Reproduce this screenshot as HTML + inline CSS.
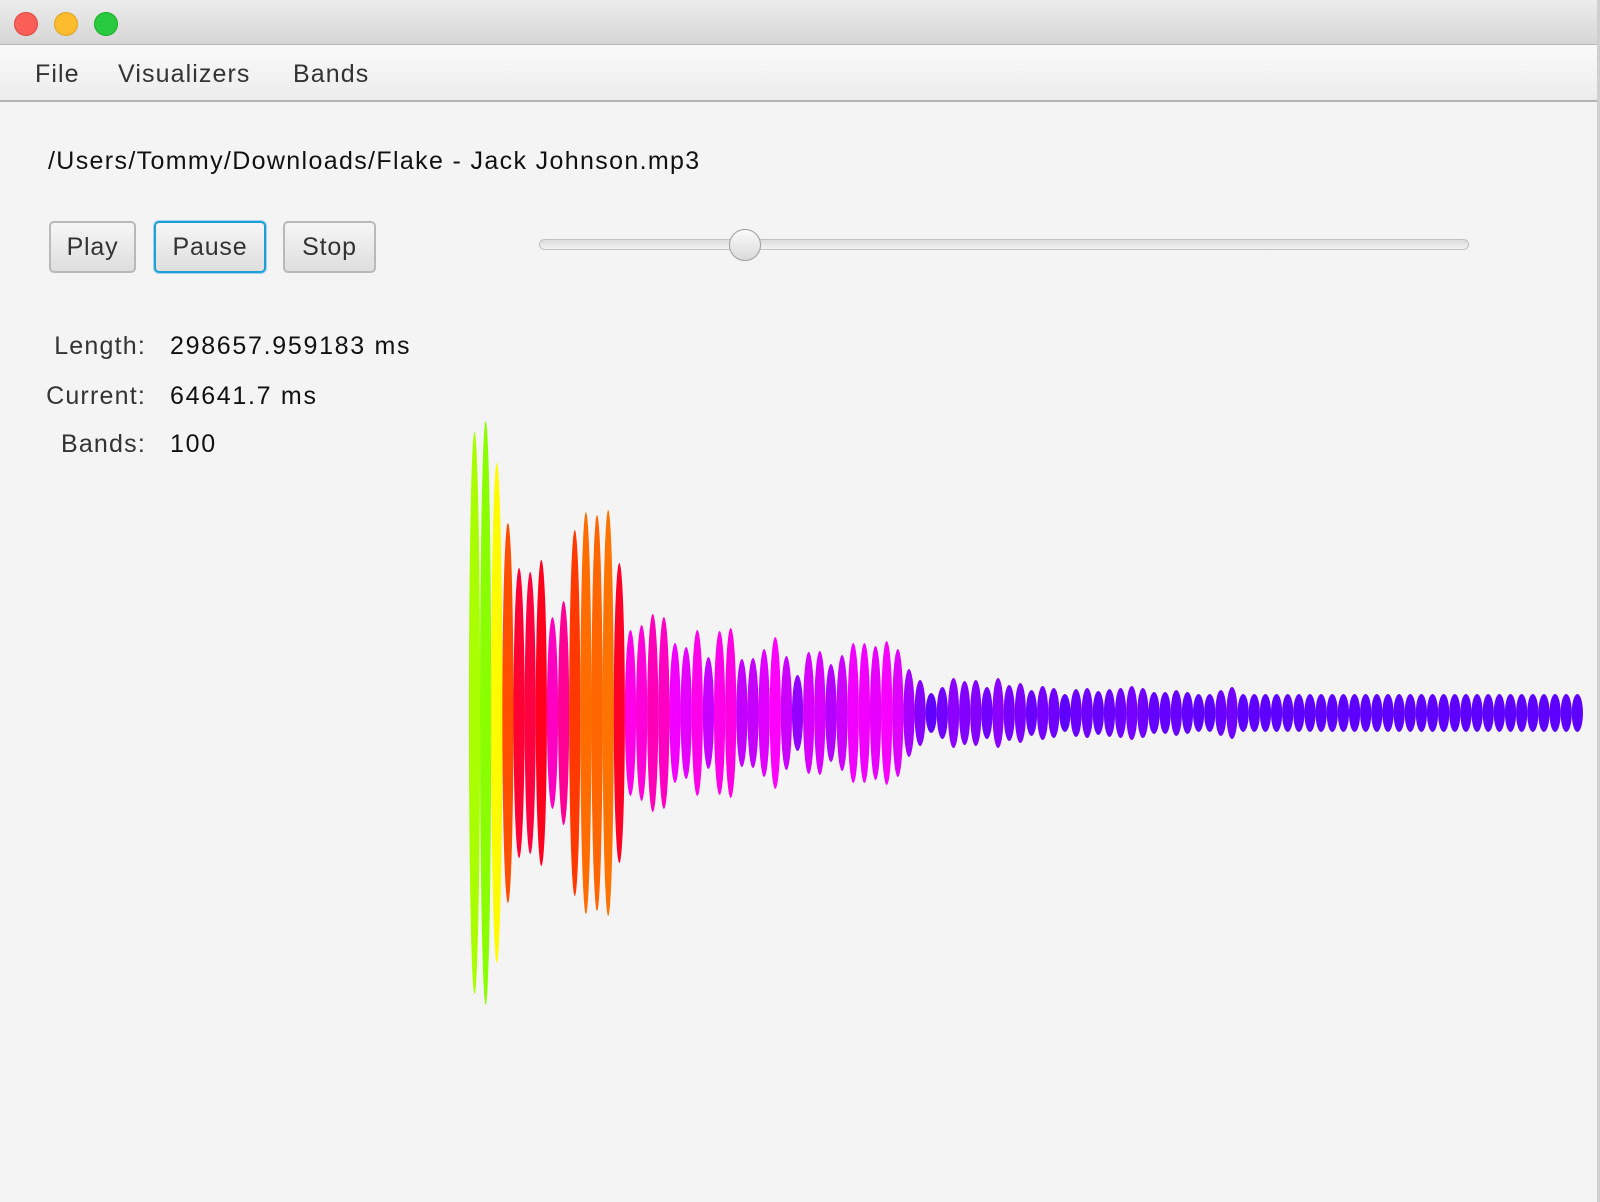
<!DOCTYPE html>
<html><head><meta charset="utf-8"><style>
body{margin:0;width:1600px;height:1202px;background:#f4f4f4;font-family:"Liberation Sans",sans-serif;position:relative;overflow:hidden}
.abs{position:absolute}
.title{left:0;top:0;width:1600px;height:45px;background:linear-gradient(#ececec,#d6d6d6);border-bottom:1px solid #b8b8b8;box-sizing:border-box}
.dot{width:24px;height:24px;border-radius:50%;top:12px;box-sizing:border-box}
.menu{left:0;top:45px;width:1600px;height:57px;background:linear-gradient(#fafafa,#ececec);border-bottom:2px solid #b4b4b4;box-sizing:border-box}
.mi{top:60px;font-size:25px;color:#333;letter-spacing:1.1px}
.btn{top:221px;height:52px;box-sizing:border-box;border:2px solid #b9b9b9;border-radius:5px;background:linear-gradient(#f6f6f6,#dedede);font-size:25px;color:#333;display:flex;align-items:center;justify-content:center;letter-spacing:0.8px}
.lbl{font-size:25px;color:#333;text-align:right;width:100px;letter-spacing:1.2px}
.val{font-size:25px;color:#111;left:170px;letter-spacing:1.7px}
</style></head><body>
<div class="abs title"></div>
<div class="abs dot" style="left:14px;background:#fc5f57;border:1px solid #e0443e"></div>
<div class="abs dot" style="left:54px;background:#fdbc2e;border:1px solid #dea123"></div>
<div class="abs dot" style="left:94px;background:#29c940;border:1px solid #1aab29"></div>
<div class="abs menu"></div>
<div class="abs mi" style="left:35px">File</div>
<div class="abs mi" style="left:118px">Visualizers</div>
<div class="abs mi" style="left:293px">Bands</div>
<div class="abs" style="left:1597px;top:0;width:3px;height:1202px;background:#cfcfcf"></div>
<div class="abs" style="left:48px;top:147px;font-size:25px;color:#111;letter-spacing:1.35px">/Users/Tommy/Downloads/Flake - Jack Johnson.mp3</div>
<div class="abs btn" style="left:49px;width:87px">Play</div>
<div class="abs btn" style="left:154px;width:112px;border-color:#1e9fd8;box-shadow:0 0 0 1px #9fd3ee">Pause</div>
<div class="abs btn" style="left:283px;width:93px">Stop</div>
<div class="abs" style="left:539px;top:239px;width:930px;height:11px;border-radius:6px;border:1px solid #c2c2c2;background:linear-gradient(#dcdcdc,#f2f2f2);box-sizing:border-box"></div>
<div class="abs" style="left:729px;top:229px;width:32px;height:32px;border-radius:50%;border:1px solid #9e9e9e;background:linear-gradient(#fafafa,#dadada);box-sizing:border-box"></div>
<div class="abs lbl" style="left:46px;top:332px">Length:</div>
<div class="abs val" style="top:332px">298657.959183 ms</div>
<div class="abs lbl" style="left:46px;top:382px">Current:</div>
<div class="abs val" style="top:382px">64641.7 ms</div>
<div class="abs lbl" style="left:46px;top:430px">Bands:</div>
<div class="abs val" style="top:430px">100</div>
<svg class="abs" style="left:0;top:0" width="1600" height="1202" id="viz"></svg>
<script>
const magnitudes=[281,292,250,190,145,141,153,96,112,183,201,198,203,150,83,88,99,96,70,66,83,56,82,85,54,55,64,76,57,38,61,62,49,58,70,70,67,72,64,44,33,20,26,35,32,33,26,35,28,30,23,27,25,19,24,25,22,24,25,27,25,21,21,23,21,19,19,23,26,19,19,19,19,19,19,19,19,19,19,19,19,19,19,19,19,19,19,19,19,19,19,19,19,19,19,19,19,19,19,19];
const svg=document.getElementById('viz');
const x0=474.5,step=11.14,cy=713;
magnitudes.forEach((m,i)=>{
  const e=document.createElementNS('http://www.w3.org/2000/svg','ellipse');
  
  
  e.setAttribute('cx',x0+i*step);
  e.setAttribute('cy',cy);
  e.setAttribute('rx',5.6);
  e.setAttribute('ry',m);
  const hue=(262+(m-19)*0.68)%360;
  e.setAttribute('fill','hsl('+hue+',100%,50%)');
  svg.appendChild(e);
});
</script>
</body></html>
